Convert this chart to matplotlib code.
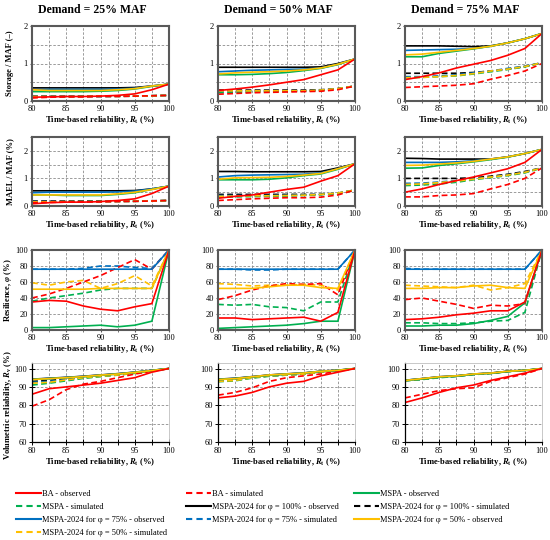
import numpy as np
import matplotlib
matplotlib.use("Agg")
import matplotlib.pyplot as plt
from matplotlib.lines import Line2D
from matplotlib.ticker import MultipleLocator

plt.rcParams['font.family'] = ['Liberation Serif', 'DejaVu Serif']
plt.rcParams['mathtext.fontset'] = 'custom'
plt.rcParams['mathtext.rm'] = 'Liberation Serif:bold'
plt.rcParams['mathtext.it'] = 'Liberation Serif:italic:bold'
plt.rcParams['mathtext.bf'] = 'Liberation Serif:bold'

rt = [80, 82.5, 85, 87.5, 90, 92.5, 95, 97.5, 100]
demands = ["Demand = 25% MAF", "Demand = 50% MAF", "Demand = 75% MAF"]

# storage / MAF (-)
storage_25 = {
    'ba_obs':   [0.10, 0.11, 0.12, 0.12, 0.13, 0.15, 0.19, 0.30, 0.45],
    'ba_sim':   [0.08, 0.10, 0.11, 0.11, 0.12, 0.12, 0.13, 0.14, 0.15],
    'mspa_obs': [0.25, 0.25, 0.25, 0.25, 0.26, 0.28, 0.32, 0.39, 0.45],
    'mspa_sim': [0.11, 0.11, 0.11, 0.12, 0.12, 0.12, 0.13, 0.14, 0.15],
    'k_obs':    [0.35, 0.35, 0.35, 0.35, 0.35, 0.35, 0.36, 0.40, 0.45],
    'k_sim':    [0.13, 0.13, 0.13, 0.13, 0.13, 0.13, 0.13, 0.14, 0.15],
    'b_obs':    [0.30, 0.31, 0.31, 0.31, 0.31, 0.32, 0.34, 0.40, 0.45],
    'b_sim':    [0.12, 0.12, 0.12, 0.12, 0.12, 0.13, 0.13, 0.14, 0.15],
    'o_obs':    [0.30, 0.28, 0.28, 0.28, 0.28, 0.30, 0.33, 0.40, 0.45],
    'o_sim':    [0.12, 0.12, 0.12, 0.12, 0.13, 0.13, 0.13, 0.14, 0.15],
}
storage_50 = {
    'ba_obs':   [0.28, 0.32, 0.37, 0.43, 0.50, 0.57, 0.70, 0.83, 1.12],
    'ba_sim':   [0.18, 0.20, 0.22, 0.23, 0.24, 0.25, 0.26, 0.30, 0.40],
    'mspa_obs': [0.70, 0.70, 0.71, 0.73, 0.76, 0.81, 0.87, 0.97, 1.12],
    'mspa_sim': [0.22, 0.23, 0.24, 0.25, 0.26, 0.26, 0.28, 0.32, 0.40],
    'k_obs':    [0.90, 0.90, 0.90, 0.90, 0.90, 0.90, 0.91, 1.00, 1.12],
    'k_sim':    [0.29, 0.29, 0.29, 0.29, 0.29, 0.29, 0.30, 0.33, 0.40],
    'b_obs':    [0.78, 0.80, 0.82, 0.83, 0.84, 0.85, 0.88, 0.98, 1.12],
    'b_sim':    [0.25, 0.26, 0.26, 0.26, 0.27, 0.27, 0.29, 0.33, 0.40],
    'o_obs':    [0.72, 0.75, 0.77, 0.78, 0.80, 0.83, 0.88, 0.98, 1.12],
    'o_sim':    [0.27, 0.27, 0.27, 0.27, 0.27, 0.27, 0.29, 0.33, 0.40],
}
storage_75 = {
    'ba_obs':   [0.57, 0.65, 0.75, 0.88, 0.98, 1.08, 1.22, 1.40, 1.80],
    'ba_sim':   [0.36, 0.38, 0.40, 0.42, 0.46, 0.58, 0.68, 0.80, 1.00],
    'mspa_obs': [1.18, 1.18, 1.27, 1.33, 1.39, 1.46, 1.55, 1.66, 1.80],
    'mspa_sim': [0.62, 0.63, 0.65, 0.67, 0.72, 0.78, 0.84, 0.91, 1.02],
    'k_obs':    [1.47, 1.47, 1.47, 1.46, 1.45, 1.47, 1.55, 1.66, 1.80],
    'k_sim':    [0.74, 0.74, 0.74, 0.74, 0.76, 0.80, 0.85, 0.92, 1.02],
    'b_obs':    [1.35, 1.36, 1.37, 1.38, 1.40, 1.46, 1.55, 1.66, 1.80],
    'b_sim':    [0.65, 0.65, 0.67, 0.70, 0.75, 0.80, 0.87, 0.93, 1.02],
    'o_obs':    [1.23, 1.25, 1.30, 1.35, 1.40, 1.46, 1.55, 1.66, 1.80],
    'o_sim':    [0.62, 0.63, 0.65, 0.68, 0.73, 0.80, 0.85, 0.92, 1.02],
}

# MAEL / MAF (%)
mael_25 = {
    'ba_obs':   [0.08, 0.12, 0.14, 0.14, 0.16, 0.20, 0.26, 0.45, 0.72],
    'ba_sim':   [0.12, 0.13, 0.14, 0.15, 0.15, 0.16, 0.17, 0.18, 0.20],
    'mspa_obs': [0.40, 0.40, 0.38, 0.38, 0.38, 0.42, 0.48, 0.60, 0.72],
    'mspa_sim': [0.14, 0.15, 0.15, 0.15, 0.16, 0.16, 0.17, 0.18, 0.20],
    'k_obs':    [0.55, 0.55, 0.55, 0.55, 0.55, 0.55, 0.56, 0.62, 0.72],
    'k_sim':    [0.18, 0.18, 0.18, 0.18, 0.18, 0.18, 0.18, 0.19, 0.20],
    'b_obs':    [0.48, 0.50, 0.50, 0.50, 0.50, 0.51, 0.54, 0.62, 0.72],
    'b_sim':    [0.16, 0.16, 0.16, 0.16, 0.16, 0.17, 0.17, 0.18, 0.20],
    'o_obs':    [0.40, 0.40, 0.40, 0.40, 0.40, 0.44, 0.50, 0.60, 0.72],
    'o_sim':    [0.15, 0.15, 0.16, 0.16, 0.16, 0.17, 0.17, 0.18, 0.20],
}
mael_50 = {
    'ba_obs':   [0.28, 0.35, 0.40, 0.50, 0.60, 0.68, 0.90, 1.10, 1.53],
    'ba_sim':   [0.20, 0.23, 0.26, 0.28, 0.30, 0.30, 0.32, 0.40, 0.58],
    'mspa_obs': [0.95, 0.95, 0.95, 0.97, 1.02, 1.10, 1.16, 1.33, 1.53],
    'mspa_sim': [0.32, 0.33, 0.34, 0.35, 0.36, 0.38, 0.41, 0.46, 0.58],
    'k_obs':    [1.25, 1.25, 1.24, 1.24, 1.24, 1.24, 1.25, 1.38, 1.53],
    'k_sim':    [0.42, 0.42, 0.42, 0.42, 0.42, 0.42, 0.42, 0.46, 0.58],
    'b_obs':    [1.05, 1.10, 1.12, 1.13, 1.14, 1.15, 1.20, 1.35, 1.53],
    'b_sim':    [0.38, 0.38, 0.38, 0.38, 0.39, 0.40, 0.42, 0.47, 0.58],
    'o_obs':    [0.97, 1.02, 1.03, 1.04, 1.07, 1.12, 1.18, 1.35, 1.53],
    'o_sim':    [0.35, 0.36, 0.37, 0.37, 0.38, 0.39, 0.42, 0.47, 0.58],
}
mael_75 = {
    'ba_obs':   [0.50, 0.62, 0.78, 0.92, 1.05, 1.20, 1.35, 1.58, 2.05],
    'ba_sim':   [0.33, 0.33, 0.38, 0.40, 0.45, 0.62, 0.78, 1.00, 1.38],
    'mspa_obs': [1.37, 1.38, 1.47, 1.53, 1.60, 1.68, 1.77, 1.90, 2.05],
    'mspa_sim': [0.74, 0.76, 0.80, 0.86, 0.95, 1.03, 1.10, 1.20, 1.38],
    'k_obs':    [1.73, 1.72, 1.70, 1.70, 1.70, 1.70, 1.78, 1.90, 2.05],
    'k_sim':    [1.00, 1.00, 1.00, 1.00, 1.02, 1.08, 1.15, 1.25, 1.38],
    'b_obs':    [1.58, 1.58, 1.58, 1.60, 1.64, 1.70, 1.78, 1.90, 2.05],
    'b_sim':    [0.82, 0.83, 0.87, 0.92, 0.98, 1.05, 1.13, 1.22, 1.38],
    'o_obs':    [1.47, 1.48, 1.52, 1.56, 1.62, 1.70, 1.78, 1.90, 2.05],
    'o_sim':    [0.78, 0.80, 0.85, 0.90, 0.97, 1.05, 1.12, 1.22, 1.38],
}

# resilience (%)
resil_25 = {
    'ba_obs':   [35, 37, 36, 30, 26, 24, 29, 33, 100],
    'ba_sim':   [40, 45, 52, 60, 68, 78, 88, 76, 100],
    'mspa_obs': [3, 3, 4, 5, 6, 4, 6, 11, 100],
    'mspa_sim': [36, 40, 43, 46, 50, 52, 52, 52, 100],
    'k_obs':    [100, 100, 100, 100, 100, 100, 100, 100, 100],
    'k_sim':    [100, 100, 100, 100, 100, 100, 100, 100, 100],
    'b_obs':    [76, 76, 76, 76, 76, 76, 76, 76, 100],
    'b_sim':    [76, 76, 76, 77, 80, 80, 78, 77, 100],
    'o_obs':    [51, 51, 51, 51, 52, 52, 52, 52, 100],
    'o_sim':    [59, 56, 60, 62, 52, 58, 68, 55, 100],
}
resil_50 = {
    'ba_obs':   [15, 15, 13, 14, 15, 16, 11, 22, 100],
    'ba_sim':   [38, 43, 50, 55, 58, 57, 58, 44, 100],
    'mspa_obs': [2, 3, 4, 5, 6, 8, 11, 11, 100],
    'mspa_sim': [32, 31, 32, 29, 28, 24, 35, 35, 100],
    'k_obs':    [100, 100, 100, 100, 100, 100, 100, 100, 100],
    'k_sim':    [100, 100, 100, 100, 100, 100, 100, 100, 100],
    'b_obs':    [76, 76, 76, 76, 76, 76, 76, 76, 100],
    'b_sim':    [76, 76, 75, 75, 76, 76, 76, 76, 100],
    'o_obs':    [52, 52, 52, 54, 56, 56, 53, 52, 100],
    'o_sim':    [58, 57, 55, 56, 56, 57, 56, 50, 100],
}
resil_75 = {
    'ba_obs':   [13, 14, 16, 19, 21, 24, 24, 35, 100],
    'ba_sim':   [38, 40, 36, 32, 27, 31, 30, 33, 100],
    'mspa_obs': [5, 5, 6, 6, 8, 12, 17, 34, 100],
    'mspa_sim': [9, 9, 8, 8, 9, 11, 12, 22, 100],
    'k_obs':    [100, 100, 100, 100, 100, 100, 100, 100, 100],
    'k_sim':    [100, 100, 100, 100, 100, 100, 100, 100, 100],
    'b_obs':    [76, 76, 76, 76, 76, 76, 76, 76, 100],
    'b_sim':    [77, 76, 76, 76, 76, 76, 76, 76, 100],
    'o_obs':    [52, 52, 53, 53, 55, 56, 53, 52, 100],
    'o_sim':    [56, 55, 54, 53, 56, 50, 53, 58, 100],
}

# volumetric reliability (%)
volrel_25 = {
    'ba_obs':   [86, 89, 90, 91, 92, 93.5, 95, 98, 100],
    'ba_sim':   [79.5, 83, 88.5, 91.5, 93, 95, 97, 98.5, 100],
    'mspa_obs': [94, 94.5, 95, 95.5, 96.3, 97, 97.9, 98.9, 100],
    'mspa_sim': [91, 92, 93.3, 94.6, 95.6, 96.4, 97.4, 98.6, 100],
    'k_obs':    [94.2, 94.7, 95.2, 95.8, 96.5, 97.2, 98, 99, 100],
    'k_sim':    [93, 93.5, 94.3, 95.2, 96, 96.7, 97.6, 98.7, 100],
    'b_obs':    [94.1, 94.6, 95.1, 95.7, 96.4, 97.1, 98, 99, 100],
    'b_sim':    [92.5, 93, 94, 95, 95.8, 96.5, 97.5, 98.6, 100],
    'o_obs':    [94, 94.5, 95, 95.6, 96.4, 97, 97.9, 98.9, 100],
    'o_sim':    [92, 92.5, 93.8, 95, 95.8, 96.5, 97.5, 98.6, 100],
}
volrel_50 = {
    'ba_obs':   [84, 85, 87, 90, 92, 93, 96, 98, 100],
    'ba_sim':   [85.5, 87, 89.5, 93, 95, 96, 97, 98.5, 100],
    'mspa_obs': [94, 94.5, 95.4, 96.3, 96.9, 97.5, 98.4, 99, 100],
    'mspa_sim': [92.8, 93.3, 94.8, 95.8, 96.4, 97, 98, 99, 100],
    'k_obs':    [94.2, 94.7, 95.6, 96.5, 97.1, 97.6, 98.5, 99.1, 100],
    'k_sim':    [93.3, 93.8, 95.1, 96, 96.6, 97.1, 98.1, 99, 100],
    'b_obs':    [94.1, 94.6, 95.5, 96.4, 97, 97.5, 98.5, 99, 100],
    'b_sim':    [93.2, 93.6, 95, 96, 96.5, 97, 98, 99, 100],
    'o_obs':    [94, 94.5, 95.5, 96.5, 97, 97.5, 98.5, 99, 100],
    'o_sim':    [93, 93.5, 95, 96, 96.5, 97, 98, 99, 100],
}
volrel_75 = {
    'ba_obs':   [81.5, 84, 87, 89.5, 91, 93.5, 95.5, 97.5, 100],
    'ba_sim':   [84, 86, 88, 89, 89.5, 93, 95, 97, 100],
    'mspa_obs': [93.5, 94.3, 95.3, 95.9, 96.9, 97.4, 98.4, 99, 100],
    'mspa_sim': [93.3, 94, 95, 95.7, 96.7, 97.3, 98.3, 99, 100],
    'k_obs':    [93.6, 94.5, 95.5, 96, 97, 97.5, 98.5, 99, 100],
    'k_sim':    [93.4, 94.2, 95.2, 95.8, 96.8, 97.4, 98.4, 99, 100],
    'b_obs':    [93.6, 94.5, 95.5, 96, 97, 97.5, 98.5, 99, 100],
    'b_sim':    [93.4, 94.2, 95.2, 95.8, 96.8, 97.4, 98.4, 99, 100],
    'o_obs':    [93.5, 94.5, 95.5, 96, 97, 97.5, 98.5, 99, 100],
    'o_sim':    [93.4, 94.3, 95.3, 95.9, 96.9, 97.4, 98.4, 99, 100],
}

rows = [
    [storage_25, storage_50, storage_75],
    [mael_25, mael_50, mael_75],
    [resil_25, resil_50, resil_75],
    [volrel_25, volrel_50, volrel_75],
]
ylabels = ["Storage / MAF (–)", "MAEL / MAF (%)",
           r"Resilience, $\varphi$ (%)", r"Volumetric reliability, $R_\mathrm{v}$ (%)"]
ylims = [(0, 2), (0, 2.5), (0, 100), (60, 103)]
ymajor = [1, 1, 20, 10]
yminor = [0.5, 0.5, 20, 10]

RED, GREEN, BLACK, BLUE, GOLD = '#FF0000', '#00B050', '#000000', '#0070C0', '#FFC000'
styles = {
    'ba_obs':   (RED, '-', "BA - observed"),
    'ba_sim':   (RED, '--', "BA - simulated"),
    'mspa_obs': (GREEN, '-', "MSPA - observed"),
    'mspa_sim': (GREEN, '--', "MSPA - simulated"),
    'k_obs':    (BLACK, '-', "MSPA-2024 for φ = 100% - observed"),
    'k_sim':    (BLACK, '--', "MSPA-2024 for φ = 100% - simulated"),
    'b_obs':    (BLUE, '-', "MSPA-2024 for φ = 75% - observed"),
    'b_sim':    (BLUE, '--', "MSPA-2024 for φ = 75% - simulated"),
    'o_obs':    (GOLD, '-', "MSPA-2024 for φ = 50% - observed"),
    'o_sim':    (GOLD, '--', "MSPA-2024 for φ = 50% - simulated"),
}
draw_order = ['k_sim', 'b_sim', 'mspa_sim', 'o_sim', 'ba_sim',
              'k_obs', 'b_obs', 'mspa_obs', 'o_obs', 'ba_obs']

W, H = 550, 540
fig = plt.figure(figsize=(5.5, 5.4), dpi=100)

col_left = [32, 218, 405]
ax_w = 137
row_tb = [(26, 101), (137, 206), (250, 330), (363, 442)]
xlab = r"Time-based reliability, $R_\mathrm{t}$ (%)"

for r in range(4):
    for c in range(3):
        t, b = row_tb[r]
        ax = fig.add_axes([col_left[c] / W, 1 - b / H, ax_w / W, (b - t) / H])
        d = rows[r][c]
        for key in draw_order:
            col, ls, _ = styles[key]
            ax.plot(rt, d[key], color=col, ls=ls, lw=1.2,
                    dashes=(3.5, 2) if ls == '--' else (None, None),
                    clip_on=(r != 2))
        ax.set_xlim(80, 100)
        ax.set_ylim(*ylims[r])
        ax.xaxis.set_major_locator(MultipleLocator(5))
        ax.xaxis.set_minor_locator(MultipleLocator(2.5))
        ax.yaxis.set_major_locator(MultipleLocator(ymajor[r]))
        ax.yaxis.set_minor_locator(MultipleLocator(yminor[r]))
        ax.grid(True, which='both', color='#8c8c8c', ls=(0, (3, 2)), lw=0.6)
        ax.set_axisbelow(True)
        ax.tick_params(labelsize=6, pad=1.5)
        if r < 3:
            for sp in ax.spines.values():
                sp.set_color('#595959')
                sp.set_linewidth(1.5)
            ax.tick_params(which='both', length=1.5, color='#595959')
        else:
            for s in ['top', 'right']:
                ax.spines[s].set_color('#bfbfbf')
                ax.spines[s].set_linewidth(0.6)
            for s in ['left', 'bottom']:
                ax.spines[s].set_color('black')
                ax.spines[s].set_linewidth(0.9)
            ax.tick_params(which='both', direction='inout', length=4, width=0.7)
        ax.set_xlabel(xlab, fontsize=6.1, fontweight='bold', labelpad=0.5)
        if c == 0:
            ax.set_ylabel(ylabels[r], fontsize=6.1, fontweight='bold')
            ax.yaxis.set_label_coords(-18 / ax_w, 0.5 if r < 3 else 0.47)
        if r == 0:
            ax.text(0.44, 1.13, demands[c], transform=ax.transAxes, ha='center',
                    va='bottom', fontsize=8.5, fontweight='bold')

# legend, three columns laid out row by row
legend_cols = [
    ['ba_obs', 'mspa_sim', 'b_obs', 'o_sim'],
    ['ba_sim', 'k_obs', 'b_sim'],
    ['mspa_obs', 'k_sim', 'o_obs'],
]
leg_x = [16, 186, 354]
for i, keys in enumerate(legend_cols):
    handles = []
    for key in keys:
        col, ls, lab = styles[key]
        handles.append(Line2D([], [], color=col, ls=ls, lw=1.5,
                              dashes=(3, 2) if ls == '--' else (None, None), label=lab))
    fig.legend(handles=handles, loc='upper left',
               bbox_to_anchor=(leg_x[i] / W, 1 - 490 / H),
               frameon=False, fontsize=6, handlelength=3.0,
               handletextpad=0.15, labelspacing=0.6, borderpad=0,
               borderaxespad=0)

fig.savefig("out.png", dpi=100)
